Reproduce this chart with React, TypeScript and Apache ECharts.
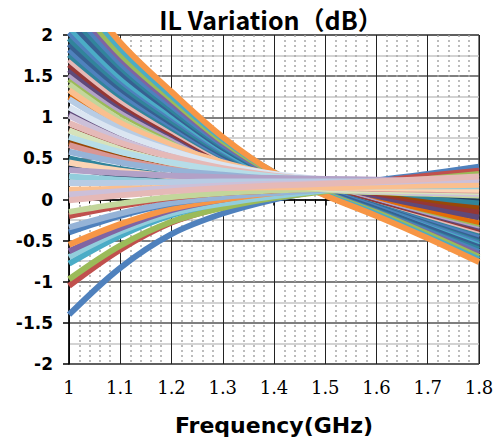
import React, { useEffect, useRef } from "react";
import * as echarts from "echarts";

const FREQ = [1, 1.1, 1.2, 1.3, 1.4, 1.5, 1.6, 1.7, 1.8];
const X_TICK_LABELS = ["1", "1.1", "1.2", "1.3", "1.4", "1.5", "1.6", "1.7", "1.8"];
const Y_TICK_LABELS = ["-2", "-1.5", "-1", "-0.5", "0", "0.5", "1", "1.5", "2"];
const TITLE = "IL Variation（dB）";
const X_NAME = "Frequency(GHz)";

// curves starting high on the left, ending low on the right
const HIGH_START: number[][] = [
  [2.7, 1.91, 1.31, 0.76, 0.33, 0.05, -0.2, -0.47, -0.76],
  [2.6, 1.84, 1.26, 0.74, 0.33, 0.06, -0.18, -0.45, -0.73],
  [2.5, 1.77, 1.22, 0.71, 0.32, 0.07, -0.16, -0.42, -0.7],
  [2.42, 1.72, 1.18, 0.69, 0.31, 0.06, -0.16, -0.41, -0.67],
  [2.34, 1.66, 1.14, 0.67, 0.31, 0.08, -0.15, -0.39, -0.64],
  [2.26, 1.61, 1.1, 0.65, 0.3, 0.07, -0.14, -0.38, -0.61],
  [2.18, 1.55, 1.07, 0.63, 0.3, 0.09, -0.12, -0.35, -0.58],
  [2.1, 1.49, 1.03, 0.61, 0.28, 0.08, -0.12, -0.34, -0.56],
  [2.03, 1.45, 1.0, 0.59, 0.29, 0.1, -0.1, -0.32, -0.54],
  [1.96, 1.4, 0.96, 0.57, 0.28, 0.09, -0.1, -0.31, -0.52],
  [1.89, 1.35, 0.93, 0.55, 0.27, 0.1, -0.09, -0.3, -0.5],
  [1.82, 1.3, 0.9, 0.53, 0.25, 0.08, -0.09, -0.28, -0.47],
  [1.76, 1.26, 0.87, 0.52, 0.26, 0.1, -0.08, -0.27, -0.45],
  [1.7, 1.21, 0.84, 0.5, 0.25, 0.09, -0.08, -0.25, -0.43],
  [1.64, 1.17, 0.81, 0.49, 0.26, 0.11, -0.06, -0.24, -0.41],
  [1.58, 1.13, 0.79, 0.47, 0.24, 0.1, -0.06, -0.23, -0.39],
  [1.52, 1.09, 0.76, 0.45, 0.24, 0.12, -0.04, -0.21, -0.37],
  [1.46, 1.05, 0.73, 0.44, 0.24, 0.11, -0.05, -0.2, -0.35],
  [1.25, 0.9, 0.63, 0.38, 0.21, 0.1, -0.03, -0.16, -0.29],
  [1.05, 0.76, 0.54, 0.33, 0.2, 0.12, 0.0, -0.11, -0.22],
  [0.85, 0.62, 0.44, 0.28, 0.18, 0.11, 0.02, -0.07, -0.16],
  [0.7, 0.51, 0.37, 0.24, 0.16, 0.12, 0.04, -0.04, -0.11],
  [0.5, 0.37, 0.28, 0.19, 0.13, 0.1, 0.05, 0.0, -0.05],
  [0.38, 0.3, 0.23, 0.16, 0.12, 0.11, 0.05, 0.02, -0.02],
];

// curves starting low on the left, ending at the top of the right-hand band
const LOW_START: number[][] = [
  [-1.4, -0.83, -0.42, -0.17, 0.0, 0.12, 0.23, 0.31, 0.4],
  [-1.05, -0.61, -0.28, -0.09, 0.05, 0.14, 0.22, 0.29, 0.35],
  [-0.97, -0.56, -0.27, -0.1, 0.02, 0.1, 0.18, 0.25, 0.31],
  [-0.78, -0.44, -0.19, -0.04, 0.07, 0.15, 0.2, 0.24, 0.27],
  [-0.7, -0.39, -0.17, -0.05, 0.04, 0.11, 0.16, 0.21, 0.26],
  [-0.63, -0.35, -0.13, 0.0, 0.09, 0.16, 0.2, 0.23, 0.25],
  [-0.55, -0.3, -0.11, 0.0, 0.08, 0.13, 0.17, 0.2, 0.23],
  [-0.4, -0.2, -0.05, 0.04, 0.1, 0.15, 0.18, 0.2, 0.21],
  [-0.34, -0.17, -0.04, 0.03, 0.08, 0.12, 0.15, 0.18, 0.2],
  [-0.2, -0.08, 0.02, 0.08, 0.11, 0.14, 0.15, 0.16, 0.17],
  [-0.15, -0.05, 0.03, 0.08, 0.11, 0.13, 0.14, 0.15, 0.16],
];

// curves starting in the middle, ending in the upper right-hand band
const MID_START: number[][] = [
  [1.4, 0.97, 0.67, 0.43, 0.24, 0.12, 0.09, 0.07, 0.05],
  [1.33, 0.93, 0.66, 0.45, 0.3, 0.21, 0.16, 0.12, 0.08],
  [1.22, 0.86, 0.6, 0.4, 0.25, 0.14, 0.13, 0.12, 0.1],
  [1.12, 0.81, 0.59, 0.42, 0.31, 0.24, 0.19, 0.15, 0.12],
  [1.02, 0.73, 0.52, 0.35, 0.22, 0.13, 0.1, 0.08, 0.07],
  [0.93, 0.69, 0.52, 0.38, 0.29, 0.23, 0.2, 0.17, 0.14],
  [0.84, 0.61, 0.44, 0.3, 0.2, 0.13, 0.11, 0.1, 0.09],
  [0.76, 0.58, 0.45, 0.35, 0.28, 0.24, 0.22, 0.2, 0.18],
  [0.66, 0.49, 0.37, 0.27, 0.2, 0.15, 0.13, 0.12, 0.11],
  [0.58, 0.45, 0.36, 0.3, 0.25, 0.21, 0.19, 0.17, 0.15],
  [0.45, 0.35, 0.28, 0.22, 0.18, 0.15, 0.14, 0.13, 0.12],
  [0.36, 0.32, 0.29, 0.27, 0.26, 0.25, 0.24, 0.22, 0.2],
  [0.28, 0.24, 0.21, 0.19, 0.17, 0.16, 0.16, 0.16, 0.16],
  [0.2, 0.2, 0.21, 0.22, 0.22, 0.22, 0.22, 0.22, 0.22],
  [0.12, 0.13, 0.14, 0.14, 0.15, 0.15, 0.16, 0.17, 0.18],
  [0.06, 0.1, 0.14, 0.17, 0.19, 0.2, 0.21, 0.23, 0.24],
  [-0.01, 0.05, 0.1, 0.14, 0.17, 0.19, 0.22, 0.25, 0.28],
];

const HIGH_COLORS = [
  "#F79646", "#4BACC6", "#9BBB59", "#8064A2", "#4F81BD", "#31849B",
  "#376092", "#4BACC6", "#4F81BD", "#31849B", "#376092", "#4F81BD",
  "#31849B", "#E5B9B7", "#953735", "#5F497A", "#B2A1C7", "#9BBB59",
  "#E36C09", "#5F497A", "#953735", "#984807", "#31849B", "#244061",
];
const LOW_COLORS = [
  "#4F81BD", "#C0504D", "#9BBB59", "#4BACC6", "#92CDDC", "#8064A2",
  "#F79646", "#4F81BD", "#95B3D7", "#C0504D", "#C3D69B",
];
const MID_COLORS = [
  "#C3D69B", "#FABF8F", "#B8CCE4", "#DBE5F1", "#CCC0D9", "#E5B9B7",
  "#D6E3BC", "#B6DDE8", "#D99694", "#95B3D7", "#FBD4B4", "#B2A1C7",
  "#92CDDC", "#B8CCE4", "#FABF8F", "#CCC0D9", "#E5B9B7",
];

function makeSeries(rows: number[][], colors: string[], prefix: string) {
  return rows.map((vals, i) => ({
    type: "line",
    name: prefix + (i + 1),
    data: FREQ.map((f, j) => [f, vals[j]]),
    smooth: 0.35,
    showSymbol: false,
    symbol: "none",
    clip: true,
    lineStyle: { width: 6, color: colors[i % colors.length], cap: "butt", join: "round" },
    itemStyle: { color: colors[i % colors.length] },
    emphasis: { disabled: true },
  }));
}

export default function App() {
  const ref = useRef<HTMLDivElement>(null);
  useEffect(() => {
    if (!ref.current) return;
    const chart = echarts.init(ref.current, undefined, { renderer: "svg" });
    chart.setOption({
      animation: false,
      backgroundColor: "#ffffff",
      grid: {
        left: 69,
        top: 35,
        right: 21,
        bottom: 76,
        show: true,
        borderColor: "#000",
        borderWidth: 1,
        backgroundColor: "transparent",
      },
      graphic: [
        {
          type: "text",
          x: 271,
          y: 19,
          style: {
            text: TITLE,
            font: 'bold 25px "Noto Sans CJK SC"',
            fill: "#000",
            align: "center",
            verticalAlign: "middle",
          },
        },
      ],
      xAxis: {
        type: "value",
        min: 1,
        max: 1.8,
        interval: 0.1,
        name: X_NAME,
        nameLocation: "middle",
        nameGap: 50,
        nameTextStyle: {
          fontFamily: "DejaVu Sans",
          fontWeight: "bold",
          fontSize: 22,
          color: "#000",
        },
        axisLine: { show: true, lineStyle: { color: "#000", width: 1.5 } },
        axisTick: { show: true, length: 6, lineStyle: { color: "#000", width: 1.5 } },
        minorTick: { show: true, splitNumber: 5, length: 4, lineStyle: { color: "#000", width: 1 } },
        axisLabel: {
          margin: 14,
          fontFamily: "DejaVu Serif",
          fontSize: 18,
          color: "#000",
          formatter: (v: number) => X_TICK_LABELS[Math.round((v - 1) / 0.1)] ?? "",
        },
        splitLine: { show: true, lineStyle: { color: "#222", width: 1 } },
        minorSplitLine: { show: true, lineStyle: { color: "#a6a6a6", width: 1.5, type: [2, 3] } },
      },
      yAxis: {
        type: "value",
        min: -2,
        max: 2,
        interval: 0.5,
        axisLine: { show: true, onZero: false, lineStyle: { color: "#000", width: 1.5 } },
        axisTick: { show: true, length: 6, lineStyle: { color: "#000", width: 1.5 } },
        minorTick: { show: false, splitNumber: 2 },
        axisLabel: {
          margin: 16,
          fontFamily: "DejaVu Sans",
          fontWeight: "bold",
          fontSize: 17,
          color: "#000",
          formatter: (v: number) => Y_TICK_LABELS[Math.round((v + 2) / 0.5)] ?? "",
        },
        splitLine: { show: true, lineStyle: { color: "#555", width: 1.5 } },
        minorSplitLine: { show: true, lineStyle: { color: "#c4c4c4", width: 1.5 } },
      },
      series: [
        ...makeSeries(HIGH_START, HIGH_COLORS, "H").reverse(),
        ...makeSeries(LOW_START, LOW_COLORS, "L"),
        ...makeSeries(MID_START, MID_COLORS, "M"),
      ],
    });
    return () => chart.dispose();
  }, []);
  return (
    <div
      ref={ref}
      style={{ position: "fixed", left: 0, top: 0, width: 500, height: 441, background: "#fff" }}
    />
  );
}
